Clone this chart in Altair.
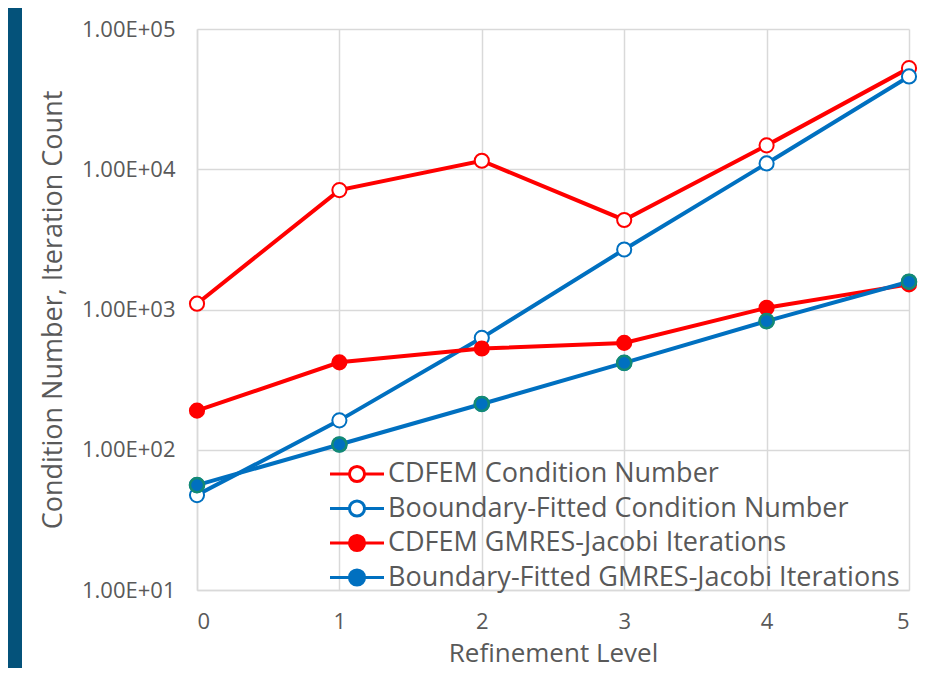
import altair as alt
import pandas as pd

levels = [0, 1, 2, 3, 4, 5]
series_names = [
    "CDFEM Condition Number",
    "Booundary-Fitted Condition Number",
    "CDFEM GMRES-Jacobi Iterations",
    "Boundary-Fitted GMRES-Jacobi Iterations",
]
cdfem_cond = [1100, 7100, 11500, 4350, 14800, 52600]
bf_cond = [47.5, 162, 628, 2680, 11000, 45900]
cdfem_iter = [190, 420, 527, 578, 1028, 1510]
bf_iter = [56, 109, 212, 416, 826, 1578]
y_ticks = [10, 100, 1000, 10000, 100000]

line_colors = ["#FF0000", "#0070C0", "#FF0000", "#0070C0"]
fill_colors = ["#FFFFFF", "#FFFFFF", "#FF0000", "#0070C0"]

rows = []
for name, vals in zip(series_names, [cdfem_cond, bf_cond, cdfem_iter, bf_iter]):
    for lv, v in zip(levels, vals):
        rows.append({"level": lv, "value": v, "series": name})
df = pd.DataFrame(rows)

FONT = "Open Sans"
GRAY = "#595959"
GRID = "#d9d9d9"

x_enc = alt.X(
    "level:Q",
    scale=alt.Scale(domain=[0, 5], nice=False, zero=False),
    axis=alt.Axis(
        title="Refinement Level", values=levels, format="d",
        grid=True, gridColor=GRID, gridWidth=1.5,
        domainColor=GRID, domainWidth=1.5, ticks=False,
        labelFont=FONT, labelFontSize=22, labelColor=GRAY, labelPadding=21,
        titleFont=FONT, titleFontSize=26, titleColor=GRAY, titleFontWeight="normal",
        titlePadding=8,
    ),
)
y_enc = alt.Y(
    "value:Q",
    scale=alt.Scale(type="log", domain=[10, 100000], nice=False),
    axis=alt.Axis(
        title="Condition Number, Iteration Count", values=y_ticks,
        labelExpr="'1.00E+0' + round(log(datum.value) / LN10)",
        grid=True, gridColor=GRID, gridWidth=1.5,
        domainColor=GRID, domainWidth=1.5, ticks=False,
        labelFont=FONT, labelFontSize=22, labelColor=GRAY, labelPadding=22,
        titleFont=FONT, titleFontSize=27, titleColor=GRAY, titleFontWeight="normal",
        titlePadding=14,
    ),
)

stroke_scale = alt.Scale(domain=series_names, range=line_colors)
fill_scale = alt.Scale(domain=series_names, range=fill_colors)

legend_symbol = (
    "M-2,0H-0.56M0.56,0H2"
    "M0.56,0A0.56,0.56 0 1,1 -0.56,0A0.56,0.56 0 1,1 0.56,0Z"
)
legend = alt.Legend(
    title=None, orient="none", legendX=145, legendY=430,
    symbolType=legend_symbol, symbolSize=729, symbolStrokeWidth=3,
    labelFont=FONT, labelFontSize=27, labelColor=GRAY, labelOffset=16,
    rowPadding=5.5, labelLimit=700,
)

base = alt.Chart(df)

strip = alt.Chart(pd.DataFrame({"a": [0]})).mark_rect(color="#04527a").encode(
    x=alt.value(-200), x2=alt.value(-175), y=alt.value(-40), y2=alt.value(720)
)

lines = base.mark_line(strokeWidth=4).encode(
    x=x_enc, y=y_enc,
    stroke=alt.Stroke("series:N", scale=stroke_scale, legend=legend, sort=series_names),
    detail="series:N",
)

points = base.mark_point(size=200, strokeWidth=2, opacity=1, filled=False).encode(
    x="level:Q", y="value:Q",
    stroke=alt.Stroke("series:N", scale=stroke_scale, legend=legend, sort=series_names),
    fill=alt.Fill("series:N", scale=fill_scale, legend=legend, sort=series_names),
)

teal = base.transform_filter(
    alt.datum.series == series_names[3]
).mark_point(size=200, strokeWidth=2.5, opacity=1, fill="#0070C0", stroke="#138a74", filled=False).encode(
    x="level:Q", y="value:Q"
)

chart = alt.layer(strip, lines, points, teal).properties(
    width=712, height=561,
    autosize=alt.AutoSizeParams(type="none"),
    padding={"left": 189, "top": 21, "right": 31, "bottom": 78},
    background="white",
).configure_view(stroke=None)

chart.save("out.html", embed_options={"renderer": "svg", "actions": False})
